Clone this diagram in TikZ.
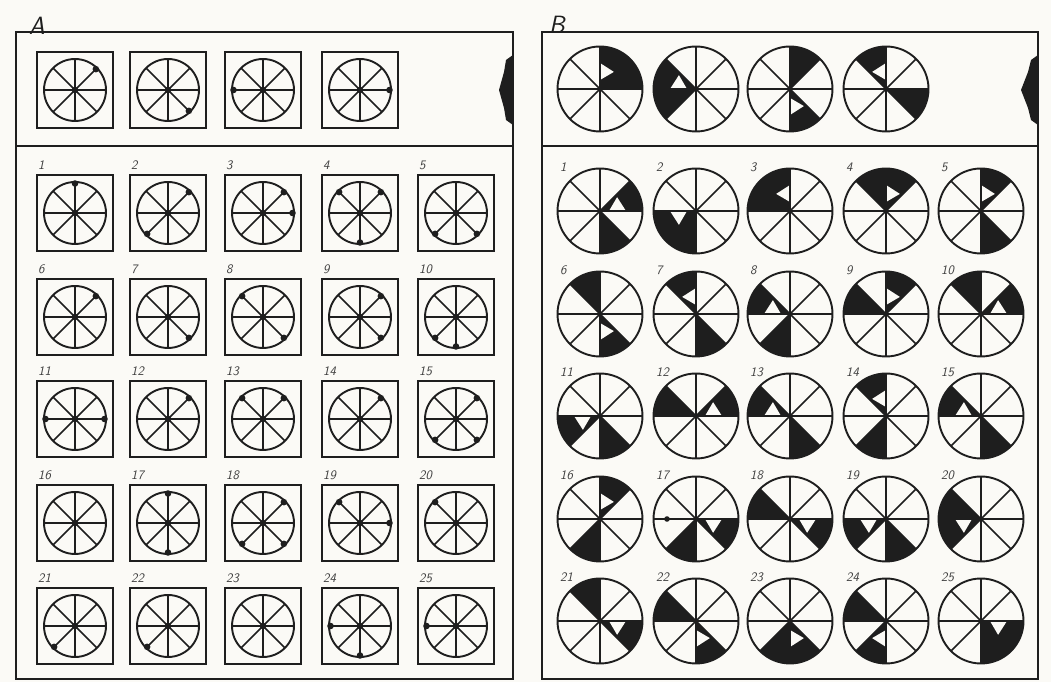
\documentclass[tikz,border=0pt]{standalone}
\definecolor{ink}{RGB}{30,30,30}
\definecolor{paper}{RGB}{251,250,246}
\tikzset{
 frame/.style={draw=ink, line width=2.4},
 sq/.style={draw=ink, line width=1.9},
 wheel/.style={draw=ink, line width=1.9},
 spoke/.style={draw=ink, line width=1.5},
 num/.style={font=\sffamily\itshape\fontsize{13}{13}\selectfont, text=ink!85, inner sep=0pt, anchor=base west},
 big/.style={font=\sffamily\itshape\fontsize{25}{25}\selectfont, text=ink, inner sep=0pt, anchor=base west},
}
\newcommand\Abase[3]{%
  \draw[sq] (#2-38,#3-38) rectangle (#2+38,#3+38);
  \foreach \ang in {0,45,...,315} \draw[spoke] (#2,#3) -- +(\ang:31);
  \draw[wheel] (#2,#3) circle[radius=31];
  \fill[ink] (#2,#3) circle[radius=3.3];
  \ifx&#1&\else\node[num] (la#1) at (#2-37,#3+43) {#1};\fi}
\newcommand\Adot[3]{\fill[ink] (#1,#2) +(#3:29.5) circle[radius=3.3];}
\newcommand\Acell[4]{\Abase{#1}{#2}{#3}\foreach \ang in {#4} {\Adot{#2}{#3}{\ang}}}
\newcommand\Bfull[3]{\fill[ink] (#1,#2) -- +({45*#3}:42.5) arc[start angle={45*#3}, delta angle=45, radius=42.5] -- cycle;}
\newcommand\Bring[3]{%
  \Bfull{#1}{#2}{#3}%
  \ifodd#3 \def\bs{45*(#3+1)}\def\bo{45*#3+6}\else\def\bs{45*#3}\def\bo{45*(#3+1)-6}\fi
  \fill[paper] (#1,#2) +({\bs}:9) -- +({\bs}:26) -- +({\bo}:22) -- cycle;}
\newcommand\Bbase[3]{%
  \foreach \ang in {0,45,...,315} \draw[spoke] (#2,#3) -- +(\ang:42.5);
  \draw[wheel] (#2,#3) circle[radius=42.5];
  \ifx&#1&\else\node[num] (lb#1) at (#2-40,#3+39) {#1};\fi}
\newcommand\Bcell[5]{\Bfull{#2}{#3}{#4}\Bring{#2}{#3}{#5}\Bbase{#1}{#2}{#3}}
\begin{document}
\begin{tikzpicture}[x=1pt,y=1pt]
\fill[paper] (0,0) rectangle (1051,682);
\useasboundingbox (0,0) rectangle (1051,682);
% ---------- Panel A ----------
\node[big] (labA) at (29,647) {A};
\draw[frame] (16,3) rectangle (513,650);
\draw[frame] (16,536) -- (513,536);
\fill[ink] (513,627) -- (506,622) -- (504,610) -- (499,592) -- (504,574) -- (506,562) -- (513,557) -- cycle;
\Acell{}{75}{592}{45}
\Acell{}{168}{592}{315}
\Acell{}{263}{592}{180}
\Acell{}{360}{592}{0}
\Acell{1}{75}{469}{90}
\Acell{2}{168}{469}{45,225}
\Acell{3}{263}{469}{45,0}
\Acell{4}{360}{469}{135,45,270}
\Acell{5}{456}{469}{225,315}
\Acell{6}{75}{365}{45}
\Acell{7}{168}{365}{315}
\Acell{8}{263}{365}{135,315}
\Acell{9}{360}{365}{45,315}
\Acell{10}{456}{365}{225,270}
\Acell{11}{75}{263}{180,0}
\Acell{12}{168}{263}{45}
\Acell{13}{263}{263}{135,45}
\Acell{14}{360}{263}{45}
\Acell{15}{456}{263}{45,225,315}
\Abase{16}{75}{159}
\Acell{17}{168}{159}{90,270}
\Acell{18}{263}{159}{45,225,315}
\Acell{19}{360}{159}{135,0}
\Acell{20}{456}{159}{135}
\Acell{21}{75}{56}{225}
\Acell{22}{168}{56}{225}
\Abase{23}{263}{56}
\Acell{24}{360}{56}{180,270}
\Acell{25}{456}{56}{180}
% ---------- Panel B ----------
\node[big] (labB) at (549,648) {B};
\draw[frame] (542,3) rectangle (1038,650);
\draw[frame] (542,536) -- (1038,536);
\fill[ink] (1038,627) -- (1031,622) -- (1028,610) -- (1021,592) -- (1028,574) -- (1031,562) -- (1038,557) -- cycle;
\Bcell{}{600}{593}{0}{1}
\Bcell{}{696}{593}{4}{3}
\Bcell{}{790}{593}{1}{6}
\Bcell{}{886}{593}{7}{2}
\Bcell{1}{600}{471}{6}{0}
\Bcell{2}{696}{471}{5}{4}
\Bcell{3}{790}{471}{3}{2}
\Bcell{4}{886}{471}{2}{1}
\Bcell{5}{981}{471}{6}{1}
\Bcell{6}{600}{368}{2}{6}
\Bcell{7}{696}{368}{6}{2}
\Bcell{8}{790}{368}{5}{3}
\Bcell{9}{886}{368}{3}{1}
\Bcell{10}{981}{368}{2}{0}
\Bcell{11}{600}{266}{6}{4}
\Bcell{12}{696}{266}{3}{0}
\Bcell{13}{790}{266}{6}{3}
\Bcell{14}{886}{266}{5}{2}
\Bcell{15}{981}{266}{6}{3}
\Bcell{16}{600}{163}{5}{1}
\Bcell{17}{696}{163}{5}{7}
\fill[ink] (667,163) circle[radius=2.8];
\Bcell{18}{790}{163}{3}{7}
\Bcell{19}{886}{163}{6}{4}
\Bcell{20}{981}{163}{3}{4}
\Bcell{21}{600}{61}{2}{7}
\Bcell{22}{696}{61}{3}{6}
\Bcell{23}{790}{61}{5}{6}
\Bcell{24}{886}{61}{3}{5}
\Bcell{25}{981}{61}{6}{7}
\end{tikzpicture}
\end{document}
